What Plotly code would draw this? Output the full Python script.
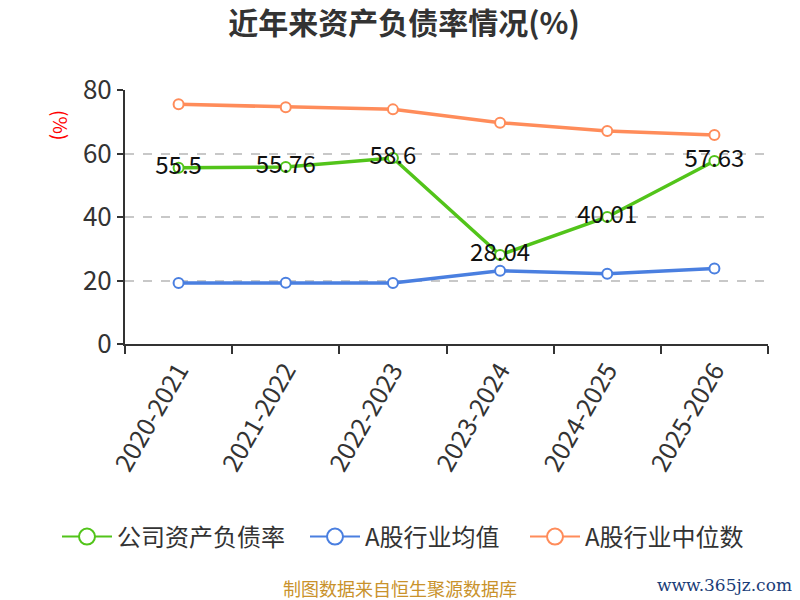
import plotly.graph_objects as go

categories = ["2020-2021", "2021-2022", "2022-2023", "2023-2024", "2024-2025", "2025-2026"]
company = [55.5, 55.76, 58.6, 28.04, 40.01, 57.63]
industry_avg = [19.2, 19.3, 19.2, 23.1, 22.1, 23.8]
industry_median = [75.5, 74.6, 73.9, 69.7, 67.1, 65.8]
series_names = ["公司资产负债率", "A股行业均值", "A股行业中位数"]
colors = ["#52c41a", "#4a7fe0", "#ff8c5a"]

fig = go.Figure()
font_cjk = "Noto Sans CJK SC, Noto Sans, sans-serif"

for vals, name, col, lab in [(company, series_names[0], colors[0], True),
                             (industry_avg, series_names[1], colors[1], False),
                             (industry_median, series_names[2], colors[2], False)]:
    fig.add_trace(go.Scatter(
        x=categories, y=vals, mode="lines+markers+text" if lab else "lines+markers",
        text=[str(v) for v in vals] if lab else None,
        textposition="middle center",
        textfont=dict(size=24, color="#111", family=font_cjk),
        line=dict(color=col, width=3.5),
        marker=dict(symbol="circle", size=10, color="white", line=dict(color=col, width=2)),
        showlegend=False, cliponaxis=False,
    ))

legend_ids = ["legend", "legend2", "legend3"]
for name, col, lid in zip(series_names, colors, legend_ids):
    fig.add_trace(go.Scatter(
        x=[None], y=[None], mode="lines+markers", name=name, legend=lid,
        line=dict(color=col, width=2),
        marker=dict(symbol="circle", size=18, color="white", line=dict(color=col, width=2)),
    ))

W, H = 792, 592
L, R, T, B = 117, 32, 82, 256
pw, ph = W - L - R, H - T - B

def px(x):
    return (x - 8 - L) / pw

def py(y):
    return (H - B - (y - 8)) / ph

def legend_at(text_start):
    return dict(orientation="h", xref="container", yref="container",
                x=(text_start - 60 - 8) / W, xanchor="left",
                y=1 - (537 - 8) / H, yanchor="middle",
                font=dict(size=24, color="#333", family=font_cjk), itemwidth=50,
                bgcolor="rgba(0,0,0,0)")

fig.update_layout(
    width=W, height=H,
    paper_bgcolor="white", plot_bgcolor="white",
    margin=dict(l=L, r=R, t=T, b=B),
    title=dict(text="<b>近年来资产负债率情况(%)</b>", x=0.5, xanchor="center", y=1 - 15 / H, yanchor="middle",
               font=dict(size=30, color="#333", family=font_cjk)),
    font=dict(family=font_cjk, color="#333"),
    legend=legend_at(117),
    legend2=legend_at(365),
    legend3=legend_at(585),
    xaxis=dict(type="category", range=[-0.5, 5.5], tickson="boundaries", ticks="outside",
               ticklen=8, tickwidth=2, tickcolor="#333", showline=True, linecolor="#333", linewidth=2,
               tickangle=-60, tickfont=dict(size=25, color="#333"), showgrid=False),
    yaxis=dict(range=[0, 80], tickvals=[0, 20, 40, 60, 80], ticks="outside", ticklen=6, tickwidth=2,
               tickcolor="#333", showline=True, linecolor="#333", linewidth=2,
               gridcolor="#c8c8c8", griddash="dash", gridwidth=1.5,
               tickfont=dict(size=26, color="#333"), zeroline=False),
    annotations=[
        dict(text="(%)", xref="paper", yref="paper", x=px(62), y=py(125), xanchor="center", yanchor="middle",
             textangle=90, showarrow=False,
             font=dict(size=19, color="red", family=font_cjk)),
        dict(text="制图数据来自恒生聚源数据库", xref="paper", yref="paper", x=px(400),
             y=py(588), xanchor="center", yanchor="middle", showarrow=False,
             font=dict(size=18, color="#c9922b", family=font_cjk)),
        dict(text="www.365jz.com", xref="paper", yref="paper", x=px(794),
             y=py(585), xanchor="right", yanchor="middle", showarrow=False,
             font=dict(size=17, color="#1a3c78", family="DejaVu Serif, serif")),
    ],
)

fig.write_html("out.html")
